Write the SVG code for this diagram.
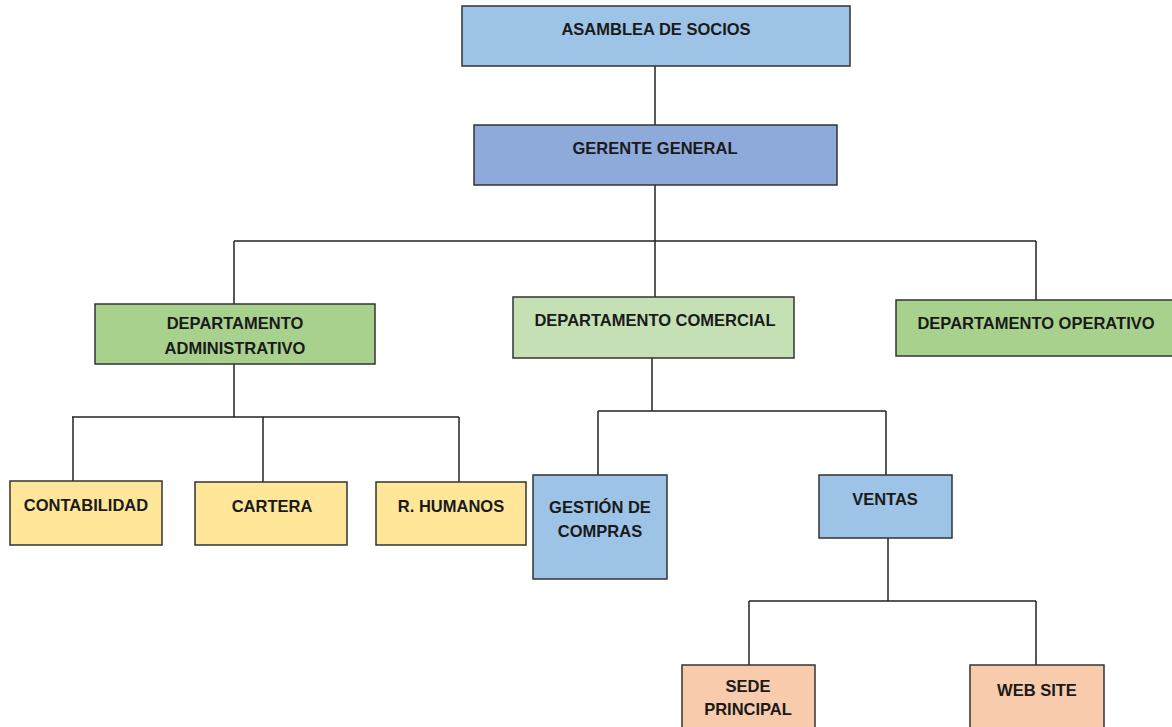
<svg xmlns="http://www.w3.org/2000/svg" width="1172" height="727" viewBox="0 0 1172 727">
<style>
.box{stroke:#333;stroke-width:1.5}
.blue{fill:#9DC3E6}.blue2{fill:#8EAADB}.green{fill:#A9D18E}.lgreen{fill:#C5E0B4}.yellow{fill:#FFE699}.peach{fill:#F8CBAD}
text{font-family:"Liberation Sans",Arial,sans-serif;font-weight:bold;font-size:16.5px;fill:#1a1a1a;text-anchor:middle}
.conn line{stroke:#222;stroke-width:1.5}
</style>
<rect width="1172" height="727" fill="#fff"/>
<g class="conn">
<line x1="655" y1="66" x2="655" y2="125"/>
<line x1="655" y1="185" x2="655" y2="297"/>
<line x1="234" y1="241" x2="1036" y2="241"/>
<line x1="234" y1="241" x2="234" y2="304"/>
<line x1="1036" y1="241" x2="1036" y2="300"/>
<line x1="234" y1="364" x2="234" y2="417"/>
<line x1="72" y1="417" x2="459" y2="417"/>
<line x1="73" y1="417" x2="73" y2="481"/>
<line x1="263" y1="417" x2="263" y2="482"/>
<line x1="459" y1="417" x2="459" y2="482"/>
<line x1="652" y1="358" x2="652" y2="411"/>
<line x1="598" y1="411" x2="886" y2="411"/>
<line x1="598" y1="411" x2="598" y2="475"/>
<line x1="886" y1="411" x2="886" y2="475"/>
<line x1="888" y1="538" x2="888" y2="601"/>
<line x1="749" y1="601" x2="1036" y2="601"/>
<line x1="749" y1="601" x2="749" y2="665"/>
<line x1="1036" y1="601" x2="1036" y2="665"/>
</g>
<g id="asamblea"><rect class="box blue" x="462" y="6" width="388" height="60"/><text x="656" y="35">ASAMBLEA DE SOCIOS</text></g>
<g id="gerente"><rect class="box blue2" x="474" y="125" width="363" height="60"/><text x="655" y="154">GERENTE GENERAL</text></g>
<g id="dep-admin"><rect class="box green" x="95" y="304" width="280" height="60"/><text x="235" y="329">DEPARTAMENTO</text><text x="235" y="354">ADMINISTRATIVO</text></g>
<g id="dep-comercial"><rect class="box lgreen" x="513" y="297" width="281" height="61"/><text x="655" y="326">DEPARTAMENTO COMERCIAL</text></g>
<g id="dep-operativo"><rect class="box green" x="896" y="300" width="280" height="56"/><text x="1036" y="329">DEPARTAMENTO OPERATIVO</text></g>
<g id="contabilidad"><rect class="box yellow" x="10" y="481" width="152" height="64"/><text x="86" y="511">CONTABILIDAD</text></g>
<g id="cartera"><rect class="box yellow" x="195" y="482" width="152" height="63"/><text x="272" y="512">CARTERA</text></g>
<g id="rhumanos"><rect class="box yellow" x="376" y="482" width="150" height="63"/><text x="451" y="512">R. HUMANOS</text></g>
<g id="compras"><rect class="box blue" x="533" y="475" width="134" height="104"/><text x="600" y="513">GESTIÓN DE</text><text x="600" y="537">COMPRAS</text></g>
<g id="ventas"><rect class="box blue" x="819" y="475" width="133" height="63"/><text x="885" y="505">VENTAS</text></g>
<g id="sede"><rect class="box peach" x="682" y="665" width="133" height="70"/><text x="748" y="692">SEDE</text><text x="748" y="715">PRINCIPAL</text></g>
<g id="website"><rect class="box peach" x="970" y="665" width="134" height="70"/><text x="1037" y="696">WEB SITE</text></g>
</svg>
